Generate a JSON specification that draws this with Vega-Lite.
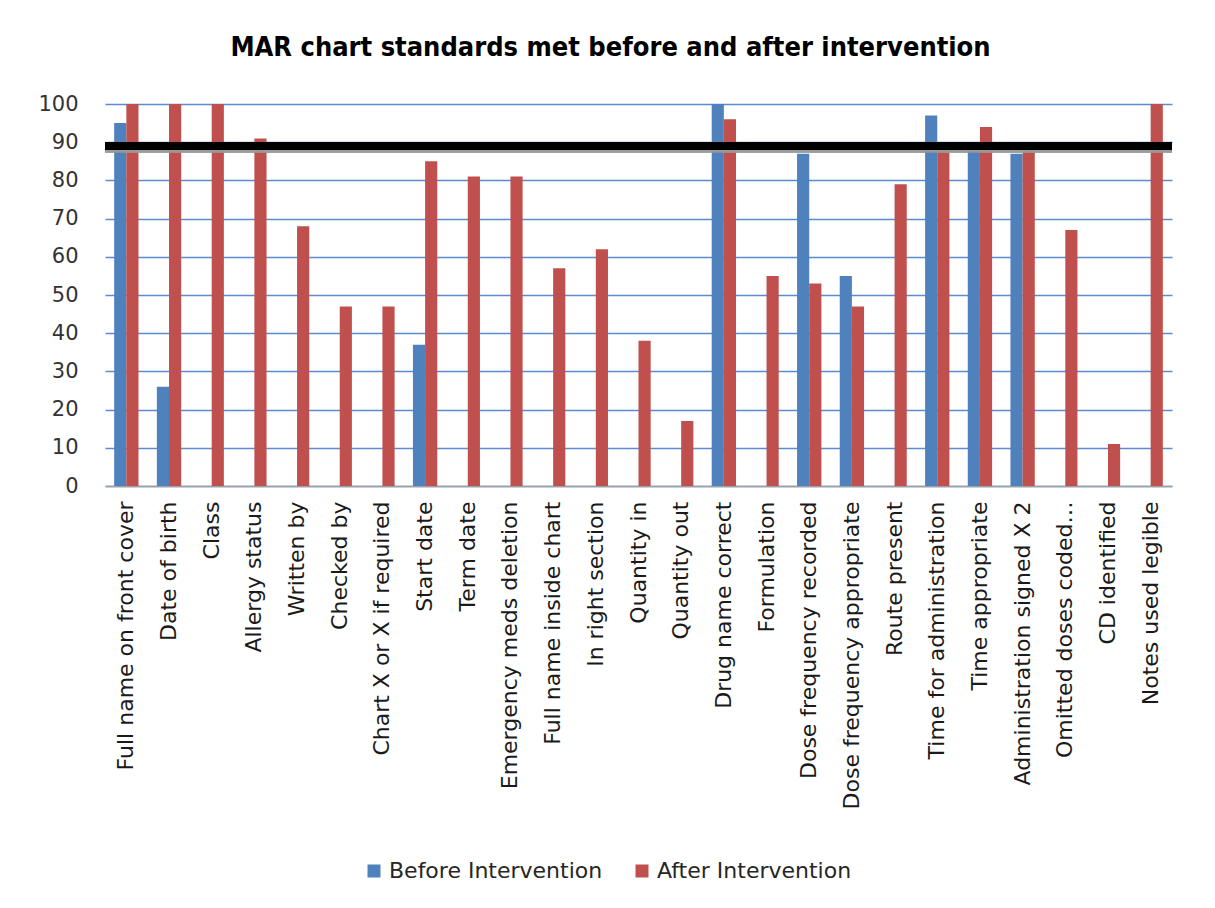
{
  "$schema": "https://vega.github.io/schema/vega-lite/v6.json",
  "autosize": {"type": "none"},
  "width": 1067,
  "height": 382,
  "padding": {"left": 105, "top": 104, "right": 43, "bottom": 422},
  "background": "white",
  "title": {
    "text": "MAR chart standards met before and after intervention",
    "font": "DejaVu Sans Condensed, DejaVu Sans",
    "fontWeight": "bold",
    "fontSize": 27,
    "color": "#000000",
    "anchor": "middle",
    "dx": -28,
    "offset": 31
  },
  "data": {
    "values": [
      {"item": "Full name on front cover", "series": "Before Intervention", "value": 95},
      {"item": "Full name on front cover", "series": "After Intervention", "value": 100},
      {"item": "Date of birth", "series": "Before Intervention", "value": 26},
      {"item": "Date of birth", "series": "After Intervention", "value": 100},
      {"item": "Class", "series": "Before Intervention", "value": 0},
      {"item": "Class", "series": "After Intervention", "value": 100},
      {"item": "Allergy status", "series": "Before Intervention", "value": 0},
      {"item": "Allergy status", "series": "After Intervention", "value": 91},
      {"item": "Written by", "series": "Before Intervention", "value": 0},
      {"item": "Written by", "series": "After Intervention", "value": 68},
      {"item": "Checked by", "series": "Before Intervention", "value": 0},
      {"item": "Checked by", "series": "After Intervention", "value": 47},
      {"item": "Chart X or X if required", "series": "Before Intervention", "value": 0},
      {"item": "Chart X or X if required", "series": "After Intervention", "value": 47},
      {"item": "Start date", "series": "Before Intervention", "value": 37},
      {"item": "Start date", "series": "After Intervention", "value": 85},
      {"item": "Term date", "series": "Before Intervention", "value": 0},
      {"item": "Term date", "series": "After Intervention", "value": 81},
      {"item": "Emergency meds deletion", "series": "Before Intervention", "value": 0},
      {"item": "Emergency meds deletion", "series": "After Intervention", "value": 81},
      {"item": "Full name inside chart", "series": "Before Intervention", "value": 0},
      {"item": "Full name inside chart", "series": "After Intervention", "value": 57},
      {"item": "In right section", "series": "Before Intervention", "value": 0},
      {"item": "In right section", "series": "After Intervention", "value": 62},
      {"item": "Quantity in", "series": "Before Intervention", "value": 0},
      {"item": "Quantity in", "series": "After Intervention", "value": 38},
      {"item": "Quantity out", "series": "Before Intervention", "value": 0},
      {"item": "Quantity out", "series": "After Intervention", "value": 17},
      {"item": "Drug name correct", "series": "Before Intervention", "value": 100},
      {"item": "Drug name correct", "series": "After Intervention", "value": 96},
      {"item": "Formulation", "series": "Before Intervention", "value": 0},
      {"item": "Formulation", "series": "After Intervention", "value": 55},
      {"item": "Dose frequency recorded", "series": "Before Intervention", "value": 87},
      {"item": "Dose frequency recorded", "series": "After Intervention", "value": 53},
      {"item": "Dose frequency appropriate", "series": "Before Intervention", "value": 55},
      {"item": "Dose frequency appropriate", "series": "After Intervention", "value": 47},
      {"item": "Route present", "series": "Before Intervention", "value": 0},
      {"item": "Route present", "series": "After Intervention", "value": 79},
      {"item": "Time for administration", "series": "Before Intervention", "value": 97},
      {"item": "Time for administration", "series": "After Intervention", "value": 88},
      {"item": "Time appropriate", "series": "Before Intervention", "value": 89},
      {"item": "Time appropriate", "series": "After Intervention", "value": 94},
      {"item": "Administration signed X 2", "series": "Before Intervention", "value": 87},
      {"item": "Administration signed X 2", "series": "After Intervention", "value": 88},
      {"item": "Omitted doses coded…", "series": "Before Intervention", "value": 0},
      {"item": "Omitted doses coded…", "series": "After Intervention", "value": 67},
      {"item": "CD identified", "series": "Before Intervention", "value": 0},
      {"item": "CD identified", "series": "After Intervention", "value": 11},
      {"item": "Notes used legible", "series": "Before Intervention", "value": 0},
      {"item": "Notes used legible", "series": "After Intervention", "value": 100}
    ]
  },
  "layer": [
    {
      "mark": {"type": "bar"},
      "encoding": {
        "x": {
          "field": "item",
          "type": "nominal",
          "sort": null,
          "scale": {"paddingInner": 0.43, "paddingOuter": 0.215},
          "axis": {
            "title": null,
            "labelAngle": -90,
            "labelAlign": "right",
            "labelBaseline": "middle",
            "labelFont": "DejaVu Sans",
            "labelFontSize": 22,
            "labelColor": "#1a1a1a",
            "labelPadding": 15,
            "labelLimit": 400,
            "labelOverlap": false,
            "ticks": false,
            "domainColor": "#a0a0a0",
            "domainWidth": 1.5,
            "grid": false
          }
        },
        "xOffset": {
          "field": "series",
          "type": "nominal",
          "sort": ["Before Intervention", "After Intervention"],
          "scale": {"paddingInner": 0, "paddingOuter": 0}
        },
        "y": {
          "field": "value",
          "type": "quantitative",
          "scale": {"domain": [0, 100], "nice": false},
          "axis": {
            "title": null,
            "values": [0, 10, 20, 30, 40, 50, 60, 70, 80, 90, 100],
            "labelOverlap": false,
            "labelFont": "DejaVu Sans",
            "labelFontSize": 21,
            "labelColor": "#333333",
            "labelPadding": 27,
            "ticks": false,
            "domain": false,
            "gridColor": "#5b8bd0",
            "gridWidth": 1.5
          }
        },
        "color": {
          "field": "series",
          "type": "nominal",
          "sort": ["Before Intervention", "After Intervention"],
          "scale": {"domain": ["Before Intervention", "After Intervention"], "range": ["#4f81bd", "#c0504d"]},
          "legend": {
            "title": null,
            "orient": "none",
            "direction": "horizontal",
            "legendX": 258,
            "legendY": 756,
            "padding": 0,
            "symbolType": "square",
            "symbolSize": 169,
            "symbolStrokeWidth": 0,
            "labelFont": "DejaVu Sans",
            "labelFontSize": 22,
            "labelColor": "#262626",
            "labelOffset": 4,
            "columnPadding": 28,
            "labelLimit": 400
          }
        }
      }
    },
    {
      "mark": {"type": "rule", "color": "#9a9a9a", "strokeWidth": 7, "opacity": 0.18},
      "encoding": {
        "y": {
          "datum": 88.3,
          "type": "quantitative",
          "axis": {
            "title": null,
            "values": [0, 10, 20, 30, 40, 50, 60, 70, 80, 90, 100],
            "labelOverlap": false,
            "labelFont": "DejaVu Sans",
            "labelFontSize": 21,
            "labelColor": "#333333",
            "labelPadding": 27,
            "ticks": false,
            "domain": false,
            "gridColor": "#5b8bd0",
            "gridWidth": 1.5
          }
        }
      }
    },
    {
      "mark": {"type": "rule", "color": "#000000", "strokeWidth": 8},
      "encoding": {
        "y": {
          "datum": 89,
          "type": "quantitative",
          "axis": {
            "title": null,
            "values": [0, 10, 20, 30, 40, 50, 60, 70, 80, 90, 100],
            "labelOverlap": false,
            "labelFont": "DejaVu Sans",
            "labelFontSize": 21,
            "labelColor": "#333333",
            "labelPadding": 27,
            "ticks": false,
            "domain": false,
            "gridColor": "#5b8bd0",
            "gridWidth": 1.5
          }
        }
      }
    }
  ],
  "config": {
    "view": {"stroke": null},
    "axis": {"gridOpacity": 1}
  }
}
